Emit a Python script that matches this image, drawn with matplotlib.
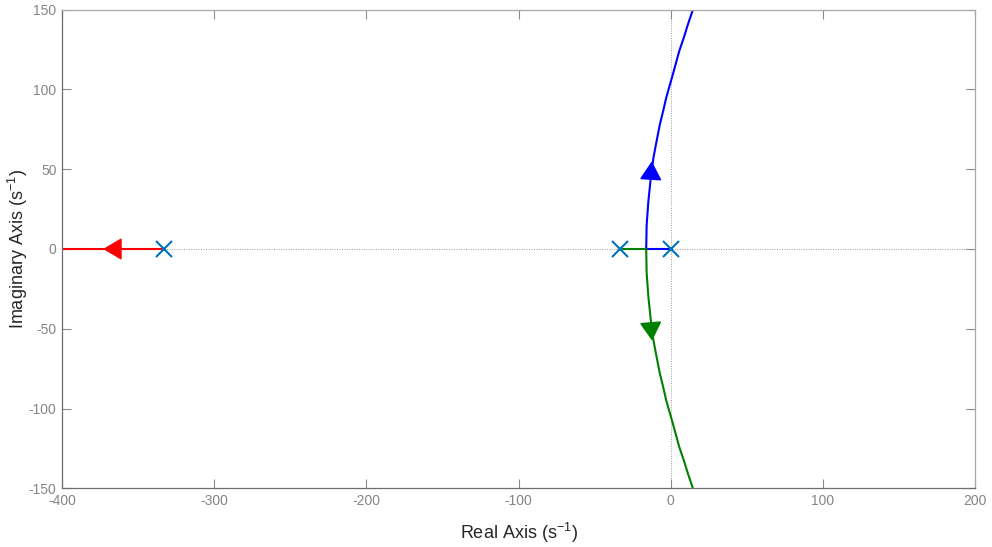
import matplotlib
matplotlib.use('Agg')
import matplotlib.pyplot as plt

plt.rcParams['font.family'] = ['Liberation Sans', 'DejaVu Sans']
plt.rcParams['mathtext.fontset'] = 'custom'
plt.rcParams['mathtext.rm'] = 'Liberation Sans'
plt.rcParams['mathtext.it'] = 'Liberation Sans'
plt.rcParams['axes.unicode_minus'] = False

#%% data
poles_re = [0, -33, -333]
poles_im = [0, 0, 0]

# branch 1 (blue): pole at 0 -> breakaway -> up
blue_x = [0, -16.1, -15.8, -14.7, -13.1, -11.4, -10.0, -7.2, -4.8, -2.9,
          -0.9, 1.0, 3.4, 5.6, 8.8, 11.4, 14.6]
blue_y = [0, 0, 15, 29.6, 44.3, 56.8, 64, 77.7, 87.1, 95,
          101.7, 108, 116.3, 124, 133, 141, 150]

# branch 2 (green): pole at -33 -> breakaway -> down
green_x = [-33, -16.1, -15.8, -14.7, -13.1, -11.4, -10.0, -7.2, -4.8, -2.9,
           -0.9, 1.0, 3.4, 5.6, 8.8, 11.4, 14.6]
green_y = [0, 0, -15, -29.6, -44.3, -56.8, -64, -77.7, -87.1, -95,
           -101.7, -108, -116.3, -124, -133, -141, -150]

# branch 3 (red): pole at -333 -> left
red_x = [-333, -400]
red_y = [0, 0]

# arrow heads (base, tip)
arrows = [
    ('#0000ff', (-13.1, 44.0), (-12.4, 55.0)),
    ('#008000', (-13.1, -47.0), (-12.2, -57.5)),
    ('#ff0000', (-362.0, 0.0), (-373.0, 0.0)),
]

x_ticks = [-400, -300, -200, -100, 0, 100, 200]
y_ticks = [-150, -100, -50, 0, 50, 100, 150]

#%% plot
fig = plt.figure(figsize=(9.92, 5.47), dpi=100)
ax = fig.add_axes([0.0625, 0.1073, 0.9204, 0.875])

# dotted axes through origin
ax.axhline(0, color='#9a9a9a', lw=0.7, ls=(0, (1, 1.5)), zorder=1)
ax.axvline(0, color='#9a9a9a', lw=0.7, ls=(0, (1, 1.5)), zorder=1)

ax.plot(blue_x, blue_y, color='#0000ff', lw=1.5, zorder=2)
ax.plot(green_x, green_y, color='#008000', lw=1.5, zorder=2)
ax.plot(red_x, red_y, color='#ff0000', lw=1.5, zorder=2)

for col, base, tip in arrows:
    ax.annotate('', xy=tip, xytext=base,
                arrowprops=dict(arrowstyle='-|>,head_length=1.15,head_width=0.68',
                                mutation_scale=10, color=col, lw=1.3,
                                shrinkA=0, shrinkB=0), zorder=3)

ax.plot(poles_re, poles_im, ls='none', marker='x', color='#0072bd',
        markersize=11, markeredgewidth=1.5, zorder=4)

ax.set_xlim(-400, 200)
ax.set_ylim(-150, 150)
ax.set_xticks(x_ticks)
ax.set_yticks(y_ticks)

ax.tick_params(direction='in', length=6.5, width=0.8, colors='#8a8a8a',
               labelsize=10, top=True, right=True, pad=4)
ax.tick_params(axis='both', labelcolor='#858585')
for side in ['bottom', 'left']:
    ax.spines[side].set_color('#6e6e6e')
for side in ['top', 'right']:
    ax.spines[side].set_color('#a8a8a8')
for sp in ax.spines.values():
    sp.set_linewidth(0.9)

ax.set_xlabel('Real Axis (s$^{-1}$)', fontsize=13, color='#262626', va='center')
ax.set_ylabel('Imaginary Axis (s$^{-1}$)', fontsize=13, color='#262626', va='center')
ax.xaxis.set_label_coords(0.5, (488.3 - 533) / 478.6)
ax.yaxis.set_label_coords((17.5 - 62) / 913, 0.5)

fig.savefig('out.png', dpi=100)
